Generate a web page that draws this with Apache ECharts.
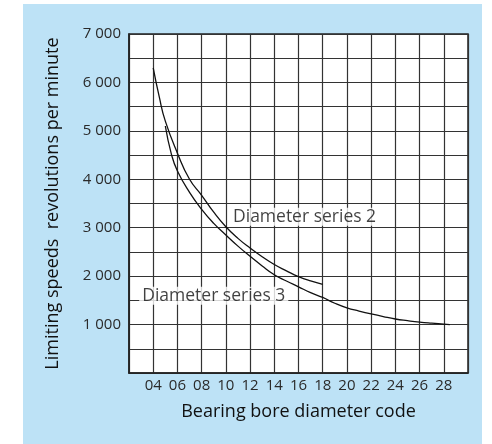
<!DOCTYPE html>
<html>
<head>
<meta charset="utf-8">
<script src="https://cdn.jsdelivr.net/npm/echarts@6/dist/echarts.min.js"></script>
<style>
html,body{margin:0;padding:0;background:#ffffff;}
#c{position:absolute;left:23px;top:4px;width:459px;height:440px;background:#bde2f6;}
</style>
</head>
<body>
<div id="c"></div>
<script>
// ---- data ----
const xTickValues = [4, 6, 8, 10, 12, 14, 16, 18, 20, 22, 24, 26, 28];
const xTickLabels = ['04', '06', '08', '10', '12', '14', '16', '18', '20', '22', '24', '26', '28'];
const yTickValues = [1000, 2000, 3000, 4000, 5000, 6000, 7000];
const yTickLabels = ['1 000', '2 000', '3 000', '4 000', '5 000', '6 000', '7 000'];

const series2Name = 'Diameter series 2';
const series2X = [4, 4.5, 5, 6, 7, 8, 9, 10, 11, 12, 13, 14, 15, 16, 17, 18];
const series2Y = [6300, 5700, 5200, 4540, 4000, 3670, 3320, 3020, 2780, 2580, 2400, 2240, 2110, 1990, 1900, 1830];

const series3Name = 'Diameter series 3';
const series3X = [5, 5.5, 6, 7, 8, 9, 10, 11, 12, 13, 14, 15, 16, 17, 18, 19, 20, 21, 22, 23, 24, 25, 26, 27, 28, 28.5];
const series3Y = [5100, 4520, 4170, 3730, 3380, 3090, 2850, 2620, 2410, 2210, 2030, 1900, 1780, 1660, 1560, 1440, 1345, 1280, 1220, 1165, 1115, 1080, 1050, 1028, 1010, 1000];

const label2At = [16.5, 3225];
const label3At = [9.0, 1595];

const xAxisTitle = 'Bearing bore diameter code';
const yAxisTitle = 'Limiting speeds  revolutions per minute';

// ---- chart ----
const FONT = 'Open Sans';
const zip = (xs, ys) => xs.map((x, i) => [x, ys[i]]);
const chart = echarts.init(document.getElementById('c'), null, {renderer: 'canvas'});

const labelSeries = (name, at) => ({
  type: 'scatter',
  name: name,
  data: [at],
  symbolSize: 0,
  itemStyle: {color: 'rgba(0,0,0,0)'},
  silent: true,
  z: 3,
  label: {
    show: true,
    position: 'inside',
    formatter: name,
    fontFamily: FONT,
    fontSize: 17.5,
    color: '#111111',
    textBorderWidth: 0,
    backgroundColor: '#ffffff',
    padding: [0, 3, 0, 3]
  }
});

chart.setOption({
  backgroundColor: 'transparent',
  animation: false,
  grid: {
    left: 106, top: 30, width: 339, height: 339,
    show: true, backgroundColor: '#ffffff', borderColor: '#222', borderWidth: 1.5
  },
  xAxis: {
    type: 'value', min: 2, max: 30, interval: 2,
    name: xAxisTitle, nameLocation: 'middle', nameGap: 30,
    nameTextStyle: {fontFamily: FONT, fontSize: 18, color: '#111'},
    axisLine: {show: true, lineStyle: {color: '#222', width: 1.5}},
    axisTick: {show: false},
    axisLabel: {
      margin: 5, fontFamily: FONT, fontSize: 15, color: '#2a2a2a',
      showMinLabel: true, showMaxLabel: true,
      formatter: v => { const i = xTickValues.indexOf(v); return i >= 0 ? xTickLabels[i] : ''; }
    },
    splitLine: {show: true, lineStyle: {color: '#333', width: 1.2}}
  },
  yAxis: {
    type: 'value', min: 0, max: 7000, interval: 500,
    name: yAxisTitle, nameLocation: 'middle', nameGap: 67,
    nameTextStyle: {fontFamily: FONT, fontSize: 18, color: '#111'},
    axisLine: {show: true, lineStyle: {color: '#222', width: 1.5}},
    axisTick: {show: false},
    axisLabel: {
      margin: 8, fontFamily: FONT, fontSize: 15, color: '#2a2a2a',
      formatter: v => { const i = yTickValues.indexOf(v); return i >= 0 ? yTickLabels[i] : ''; }
    },
    splitLine: {show: true, lineStyle: {color: '#333', width: 1.2}}
  },
  series: [
    labelSeries(series2Name, label2At),
    labelSeries(series3Name, label3At),
    {
      type: 'line', name: series2Name, data: zip(series2X, series2Y),
      smooth: 0.5, symbol: 'none', z: 4,
      lineStyle: {color: '#111', width: 1.3}
    },
    {
      type: 'line', name: series3Name, data: zip(series3X, series3Y),
      smooth: 0.5, symbol: 'none', z: 4,
      lineStyle: {color: '#111', width: 1.3}
    }
  ]
});
</script>
</body>
</html>
